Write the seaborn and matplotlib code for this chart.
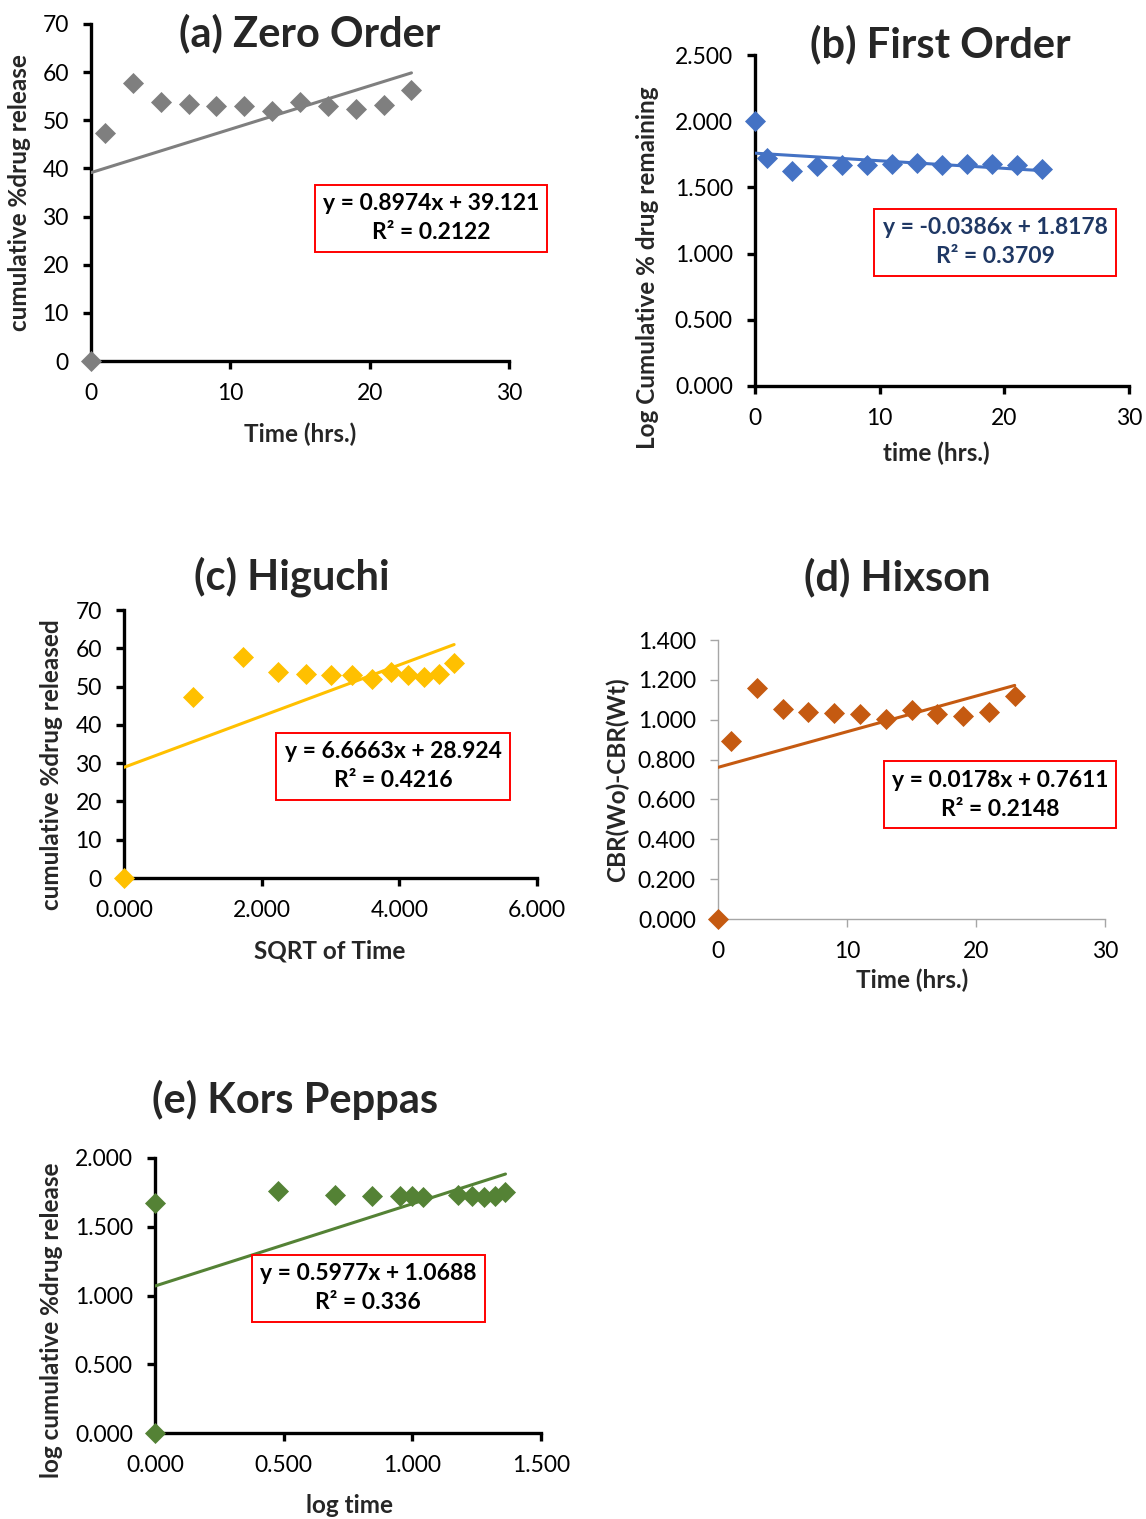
# Drug release kinetics: five model fits in one figure

import numpy as np
import pandas as pd
import matplotlib
matplotlib.use("Agg")
import matplotlib.pyplot as plt
import seaborn as sns

sns.set_theme(style="white")
plt.rcParams['font.family'] = ['Lato', 'DejaVu Sans']

# time points (hrs.)
time_hrs = [0, 1, 3, 5, 7, 9, 11, 13, 15, 17, 19, 21, 23]
sqrt_time = [0, 1.000, 1.732, 2.236, 2.646, 3.000, 3.317, 3.606, 3.873, 4.123, 4.359, 4.583, 4.796]
log_time = [0, 0, 0.477, 0.699, 0.845, 0.954, 1.000, 1.041, 1.176, 1.230, 1.279, 1.322, 1.362]

# measured / transformed values
cum_release = [0, 47.3, 57.8, 53.8, 53.3, 53.0, 52.9, 51.9, 53.7, 52.9, 52.4, 53.2, 56.2]
log_remaining = [2.000, 1.722, 1.625, 1.665, 1.669, 1.672, 1.673, 1.682, 1.666, 1.673, 1.678, 1.670, 1.641]
hixson = [0.000, 0.892, 1.161, 1.053, 1.040, 1.033, 1.030, 1.005, 1.050, 1.030, 1.018, 1.038, 1.117]
log_release = [0, 1.675, 1.762, 1.731, 1.727, 1.724, 1.723, 1.715, 1.730, 1.723, 1.719, 1.726, 1.750]

# equation labels as printed on the chart
eq_a = "y = 0.8974x + 39.121\nR² = 0.2122"
eq_b = "y = -0.0386x + 1.8178\nR² = 0.3709"
eq_c = "y = 6.6663x + 28.924\nR² = 0.4216"
eq_d = "y = 0.0178x + 0.7611\nR² = 0.2148"
eq_e = "y = 0.5977x + 1.0688\nR² = 0.336"

W, H = 1146, 1519
fig = plt.figure(figsize=(W / 100, H / 100), dpi=100)


def px_axes(x0, x1, y0, y1):
    # axes from pixel box (left, right, top, bottom)
    return fig.add_axes([x0 / W, 1 - y1 / H, (x1 - x0) / W, (y1 - y0) / H])


def fig_text(x, y, s, **kw):
    fig.text(x / W, 1 - y / H, s, **kw)


panels = [
    dict(box=(91, 509, 24, 361), x=time_hrs, y=cum_release, color="#7F7F7F",
         xlim=(0, 30), xt=[0, 10, 20, 30], ylim=(0, 70), yt=np.arange(0, 71, 10),
         xfmt="{:.0f}", yfmt="{:.0f}", xl="Time (hrs.)", yl="cumulative %drug release",
         xlc=(0.5, -0.217), ylc=(-0.172, 0.499), title="(a) Zero Order", tpos=(310, 33),
         eq=eq_a, epos=(431, 218), ecol="black", thin=False),
    dict(box=(755, 1129, 55, 386), x=time_hrs, y=log_remaining, color="#4472C4",
         xlim=(0, 30), xt=[0, 10, 20, 30], ylim=(0, 2.5), yt=np.arange(0, 2.51, 0.5),
         xfmt="{:.0f}", yfmt="{:.3f}", xl="time (hrs.)", yl="Log Cumulative % drug remaining",
         xlc=(0.484, -0.202), ylc=(-0.288, 0.356), title="(b) First Order", tpos=(940, 44),
         eq=eq_b, epos=(995, 242), ecol="#1F3864", thin=False),
    dict(box=(124, 537, 610, 878), x=sqrt_time, y=cum_release, color="#FFC000",
         xlim=(0, 6), xt=[0, 2, 4, 6], ylim=(0, 70), yt=np.arange(0, 71, 10),
         xfmt="{:.3f}", yfmt="{:.0f}", xl="SQRT of Time", yl="cumulative %drug released",
         xlc=(0.499, -0.272), ylc=(-0.176, 0.422), title="(c) Higuchi", tpos=(292, 577),
         eq=eq_c, epos=(393, 766), ecol="black", thin=False),
    dict(box=(718, 1105, 640, 919), x=time_hrs, y=hixson, color="#C55A11",
         xlim=(0, 30), xt=[0, 10, 20, 30], ylim=(0, 1.4), yt=np.arange(0, 1.41, 0.2),
         xfmt="{:.0f}", yfmt="{:.3f}", xl="Time (hrs.)", yl="CBR(Wo)-CBR(Wt)",
         xlc=(0.501, -0.219), ylc=(-0.260, 0.498), title="(d) Hixson", tpos=(897, 577),
         eq=eq_d, epos=(1000, 795), ecol="black", thin=True),
    dict(box=(155, 541, 1158, 1433), x=log_time, y=log_release, color="#548235",
         xlim=(0, 1.5), xt=[0, 0.5, 1.0, 1.5], ylim=(0, 2.0), yt=np.arange(0, 2.01, 0.5),
         xfmt="{:.3f}", yfmt="{:.3f}", xl="log time", yl="log cumulative %drug release",
         xlc=(0.503, -0.262), ylc=(-0.269, 0.411), title="(e) Kors Peppas", tpos=(295, 1100),
         eq=eq_e, epos=(368, 1288), ecol="black", thin=False),
]

for p in panels:
    ax = px_axes(*p["box"])
    df = pd.DataFrame({"x": p["x"], "y": p["y"]})

    # linear trendline over the data range
    sns.regplot(data=df, x="x", y="y", ax=ax, scatter=False, ci=None, truncate=True,
                line_kws=dict(color=p["color"], lw=2.2, zorder=3))
    sns.scatterplot(data=df, x="x", y="y", ax=ax, marker="D", s=115, color=p["color"],
                    linewidth=0, zorder=5, clip_on=False)

    ax.set_xlim(*p["xlim"])
    ax.set_ylim(*p["ylim"])
    ax.set_xticks(p["xt"])
    ax.set_yticks(p["yt"])
    ax.set_xticklabels([p["xfmt"].format(v) for v in p["xt"]])
    ax.set_yticklabels([p["yfmt"].format(v) for v in p["yt"]])

    sns.despine(ax=ax)
    if p["thin"]:
        sc, sw = "#A6A6A6", 1.0
    else:
        sc, sw = "black", 2.4
    for side in ("left", "bottom"):
        ax.spines[side].set_color(sc)
        ax.spines[side].set_linewidth(sw)
    ax.tick_params(axis="both", direction="out", length=6, width=sw, color=sc,
                   pad=10, labelsize=16.5, labelcolor="black",
                   bottom=True, left=True)

    ax.set_xlabel(p["xl"], fontsize=17.5, fontweight="bold")
    ax.set_ylabel(p["yl"], fontsize=17.5, fontweight="bold")
    ax.xaxis.set_label_coords(*p["xlc"])
    ax.yaxis.set_label_coords(*p["ylc"])
    ax.xaxis.label.set_va("center")
    ax.yaxis.label.set_va("center")

    fig_text(*p["tpos"], p["title"], ha="center", va="center",
             fontsize=30, fontweight="bold")
    fig_text(*p["epos"], p["eq"], ha="center", va="center", fontsize=16.5,
             fontweight="bold", color=p["ecol"], linespacing=1.5,
             multialignment="center",
             bbox=dict(boxstyle="square,pad=0.36", fc="white", ec="red", lw=1.4))

plt.savefig("out.png", dpi=100)
